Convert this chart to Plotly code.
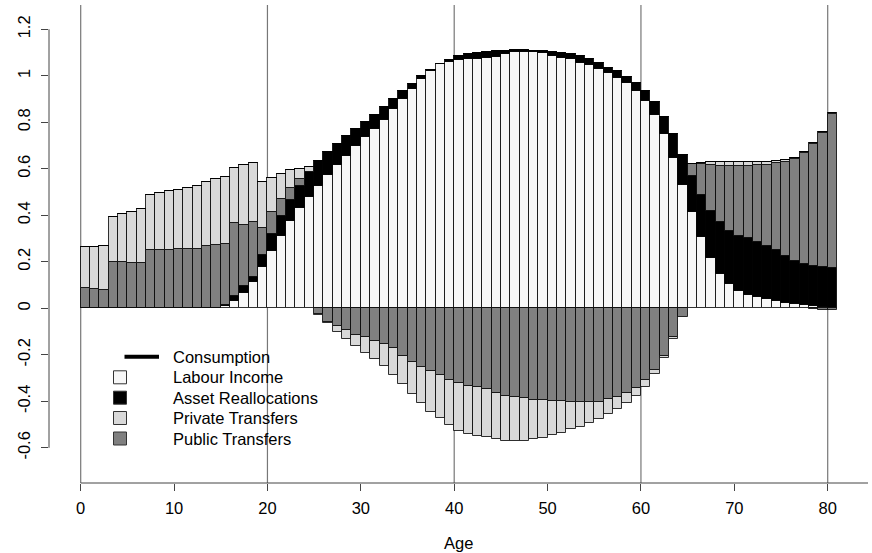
import plotly.graph_objects as go

ages = list(range(81))

labour_income = [
    0, 0, 0, 0, 0, 0, 0, 0, 0, 0.001, 0.001, 0.001, 0.001, 0.001, 0.001, 0.012,
    0.031, 0.067, 0.112, 0.178, 0.246, 0.312, 0.375, 0.430, 0.480, 0.526, 0.572,
    0.615, 0.656, 0.698, 0.737, 0.771, 0.809, 0.856, 0.899, 0.943, 0.986, 1.022,
    1.049, 1.059, 1.068, 1.071, 1.074, 1.077, 1.082, 1.092, 1.101, 1.104, 1.104,
    1.097, 1.086, 1.078, 1.071, 1.056, 1.046, 1.029, 1.011, 0.989, 0.968, 0.935,
    0.893, 0.831, 0.748, 0.648, 0.529, 0.416, 0.305, 0.215, 0.148, 0.105, 0.074,
    0.057, 0.047, 0.039, 0.031, 0.024, 0.018, 0.014, 0.010, 0.006, 0.002]

asset_reallocations = [
    0, 0, 0, 0, 0, 0, 0, 0, 0, 0.002, 0.002, 0.002, 0.002, 0.002, 0.002, 0.004,
    0.022, 0.029, 0.023, 0.053, 0.074, 0.086, 0.091, 0.097, 0.105, 0.108, 0.099,
    0.093, 0.085, 0.075, 0.064, 0.060, 0.057, 0.043, 0.034, 0.020, 0.012, 0.002,
    0.002, 0.009, 0.017, 0.021, 0.025, 0.027, 0.025, 0.016, 0.009, 0.006, 0.004,
    0.008, 0.015, 0.019, 0.021, 0.029, 0.025, 0.025, 0.024, 0.032, 0.026, 0.034,
    0.043, 0.058, 0.076, 0.100, 0.129, 0.154, 0.182, 0.203, 0.222, 0.229, 0.238,
    0.244, 0.237, 0.230, 0.220, 0.202, 0.185, 0.175, 0.172, 0.170, 0.173]

public_inflows = [
    0.086, 0.083, 0.079, 0.198, 0.198, 0.195, 0.195, 0.249, 0.249, 0.247, 0.252,
    0.252, 0.252, 0.265, 0.269, 0.259, 0.315, 0.262, 0.235, 0.116, 0.093, 0.071,
    0.050, 0.028, 0, 0, 0, 0, 0, 0, 0, 0, 0, 0, 0, 0, 0, 0, 0, 0, 0, 0, 0, 0, 0,
    0, 0, 0, 0, 0, 0, 0, 0, 0, 0, 0, 0, 0, 0, 0, 0, 0, 0, 0, 0, 0.049, 0.132,
    0.198, 0.242, 0.279, 0.301, 0.313, 0.332, 0.349, 0.372, 0.404, 0.440, 0.478,
    0.525, 0.579, 0.662]

private_inflows = [
    0.179, 0.179, 0.187, 0.196, 0.206, 0.218, 0.231, 0.237, 0.248, 0.253, 0.255,
    0.262, 0.269, 0.276, 0.286, 0.291, 0.237, 0.258, 0.254, 0.196, 0.146, 0.110,
    0.077, 0.045, 0.021, 0, 0, 0, 0, 0, 0, 0, 0, 0, 0, 0, 0, 0, 0, 0, 0, 0, 0, 0,
    0, 0, 0, 0, 0, 0, 0, 0, 0, 0, 0, 0, 0, 0, 0, 0, 0, 0, 0, 0, 0, 0, 0.008,
    0.014, 0.018, 0.018, 0.016, 0.015, 0.013, 0.011, 0.009, 0.007, 0.005, 0.004,
    0.003, 0.002, 0.002]

public_outflows = [
    0, 0, 0, 0, 0, 0, 0, 0, 0, 0, 0, 0, 0, 0, 0, 0, 0, 0, 0, 0, 0, 0, 0, 0, 0,
    -0.025, -0.057, -0.076, -0.093, -0.115, -0.122, -0.139, -0.154, -0.172,
    -0.205, -0.230, -0.251, -0.270, -0.287, -0.308, -0.320, -0.333, -0.337,
    -0.346, -0.366, -0.377, -0.383, -0.387, -0.394, -0.394, -0.397, -0.400,
    -0.403, -0.403, -0.403, -0.403, -0.391, -0.383, -0.366, -0.341, -0.308,
    -0.265, -0.205, -0.125, -0.036, 0, 0, 0, 0, 0, 0, 0, 0, 0, 0, 0, 0, 0,
    -0.003, -0.006, -0.008]

private_outflows = [
    0, 0, 0, 0, 0, 0, 0, 0, 0, 0, 0, 0, 0, 0, 0, 0, 0, 0, 0, 0, 0, 0, 0, 0, 0,
    -0.002, -0.008, -0.027, -0.040, -0.047, -0.072, -0.080, -0.094, -0.115,
    -0.121, -0.139, -0.158, -0.175, -0.186, -0.194, -0.206, -0.208, -0.212,
    -0.209, -0.198, -0.194, -0.188, -0.184, -0.170, -0.163, -0.148, -0.135,
    -0.118, -0.106, -0.089, -0.074, -0.065, -0.050, -0.043, -0.036, -0.029,
    -0.018, -0.010, -0.008, 0, 0, 0, 0, 0, 0, 0, 0, 0, 0, 0, 0, 0, 0, 0, 0, 0]

x_ticks = [0, 10, 20, 30, 40, 50, 60, 70, 80]
v_lines = [0, 20, 40, 60, 80]
y_ticks = [-0.6, -0.4, -0.2, 0, 0.2, 0.4, 0.6, 0.8, 1.0, 1.2]
y_ticklabels = ["-0.6", "-0.4", "-0.2", "0", "0.2", "0.4", "0.6", "0.8", "1", "1.2"]

legend_labels = ["Consumption", "Labour Income", "Asset Reallocations",
                 "Private Transfers", "Public Transfers"]

C_LAB = "#f7f7f7"
C_ASSET = "#000000"
C_PRIV = "#d9d9d9"
C_PUB = "#808080"
EDGE = "rgba(0,0,0,0.8)"
FONT = "Liberation Sans, Arial, sans-serif"
FS = 16.5

# geometry (pixels) for a 872x553 canvas
W, H = 872, 553
ML, MR, MT, MB = 49, 4, 5, 70
X0_PX, PX_PER_YEAR = 80.7, 9.3375
Y0_PX, PX_PER_UNIT = 308.3, 232.5

def px_to_x(px):
    return (px - X0_PX) / PX_PER_YEAR

def py_to_y(py):
    return (Y0_PX - py) / PX_PER_UNIT

x_range = [px_to_x(ML), px_to_x(W - MR)]
y_range = [py_to_y(H - MB), py_to_y(MT)]

xc = [a + 0.5 for a in ages]

fig = go.Figure()

def add_bar(vals, color, name):
    fig.add_trace(go.Bar(
        x=xc, y=vals, width=1, name=name, showlegend=False,
        marker=dict(color=color, line=dict(color=EDGE, width=1)),
        hoverinfo="skip"))

add_bar(labour_income, C_LAB, "Labour Income")
add_bar(asset_reallocations, C_ASSET, "Asset Reallocations")
add_bar(public_inflows, C_PUB, "Public Transfers")
add_bar(private_inflows, C_PRIV, "Private Transfers")
add_bar(public_outflows, C_PUB, "Public Transfers (out)")
add_bar(private_outflows, C_PRIV, "Private Transfers (out)")

shapes = []
for v in v_lines:
    shapes.append(dict(type="line", xref="x", yref="paper", x0=v, x1=v, y0=0, y1=1,
                       line=dict(color="#777777", width=1.2), layer="below"))
# y axis line (only across tick range)
shapes.append(dict(type="line", xref="paper", yref="y", x0=0, x1=0,
                   y0=min(y_ticks), y1=max(y_ticks), line=dict(color="#444", width=1)))
# x axis line
shapes.append(dict(type="line", xref="x", yref="paper", x0=0, x1=x_range[1],
                   y0=0, y1=0, line=dict(color="#444", width=1)))

# manual legend
annotations = []
row_py = [356.7, 377.3, 397.7, 418.0, 438.5]
sq_fill = [None, C_LAB, C_ASSET, C_PRIV, C_PUB]
for i, lab in enumerate(legend_labels):
    py = row_py[i]
    if i == 0:
        shapes.append(dict(type="line", xref="x", yref="y",
                           x0=px_to_x(124.5), x1=px_to_x(159.0),
                           y0=py_to_y(py), y1=py_to_y(py),
                           line=dict(color="black", width=4)))
    else:
        shapes.append(dict(type="rect", xref="x", yref="y",
                           x0=px_to_x(113.5), x1=px_to_x(126.5),
                           y0=py_to_y(py + 6.5), y1=py_to_y(py - 6.5),
                           fillcolor=sq_fill[i], line=dict(color="#333", width=1)))
    annotations.append(dict(x=px_to_x(170.5), y=py_to_y(py), xref="x", yref="y",
                            text=lab, showarrow=False, xanchor="left", yanchor="middle",
                            font=dict(family=FONT, size=FS, color="black")))

annotations.append(dict(x=0.5, y=-(543 - (H - MB)) / (H - MB - MT), xref="paper",
                        yref="paper", text="Age", showarrow=False, xanchor="center",
                        yanchor="middle", font=dict(family=FONT, size=FS, color="black")))

fig.update_layout(
    width=W, height=H,
    margin=dict(l=ML, r=MR, t=MT, b=MB, pad=0),
    paper_bgcolor="white", plot_bgcolor="white",
    barmode="relative", bargap=0,
    shapes=shapes, annotations=annotations,
    showlegend=False,
    xaxis=dict(range=x_range, tickvals=x_ticks, ticktext=[str(t) for t in x_ticks],
               ticks="outside", ticklen=7, tickcolor="#444", tickwidth=1,
               ticklabelstandoff=3,
               showline=False, showgrid=False, zeroline=False,
               tickfont=dict(family=FONT, size=FS, color="black")),
    yaxis=dict(range=y_range, tickvals=y_ticks, ticktext=y_ticklabels,
               ticks="outside", ticklen=7, tickcolor="#444", tickwidth=1,
               ticklabelstandoff=4,
               tickangle=-90, showline=False, showgrid=False, zeroline=False,
               tickfont=dict(family=FONT, size=FS, color="black")),
)

fig.write_html("out.html")
